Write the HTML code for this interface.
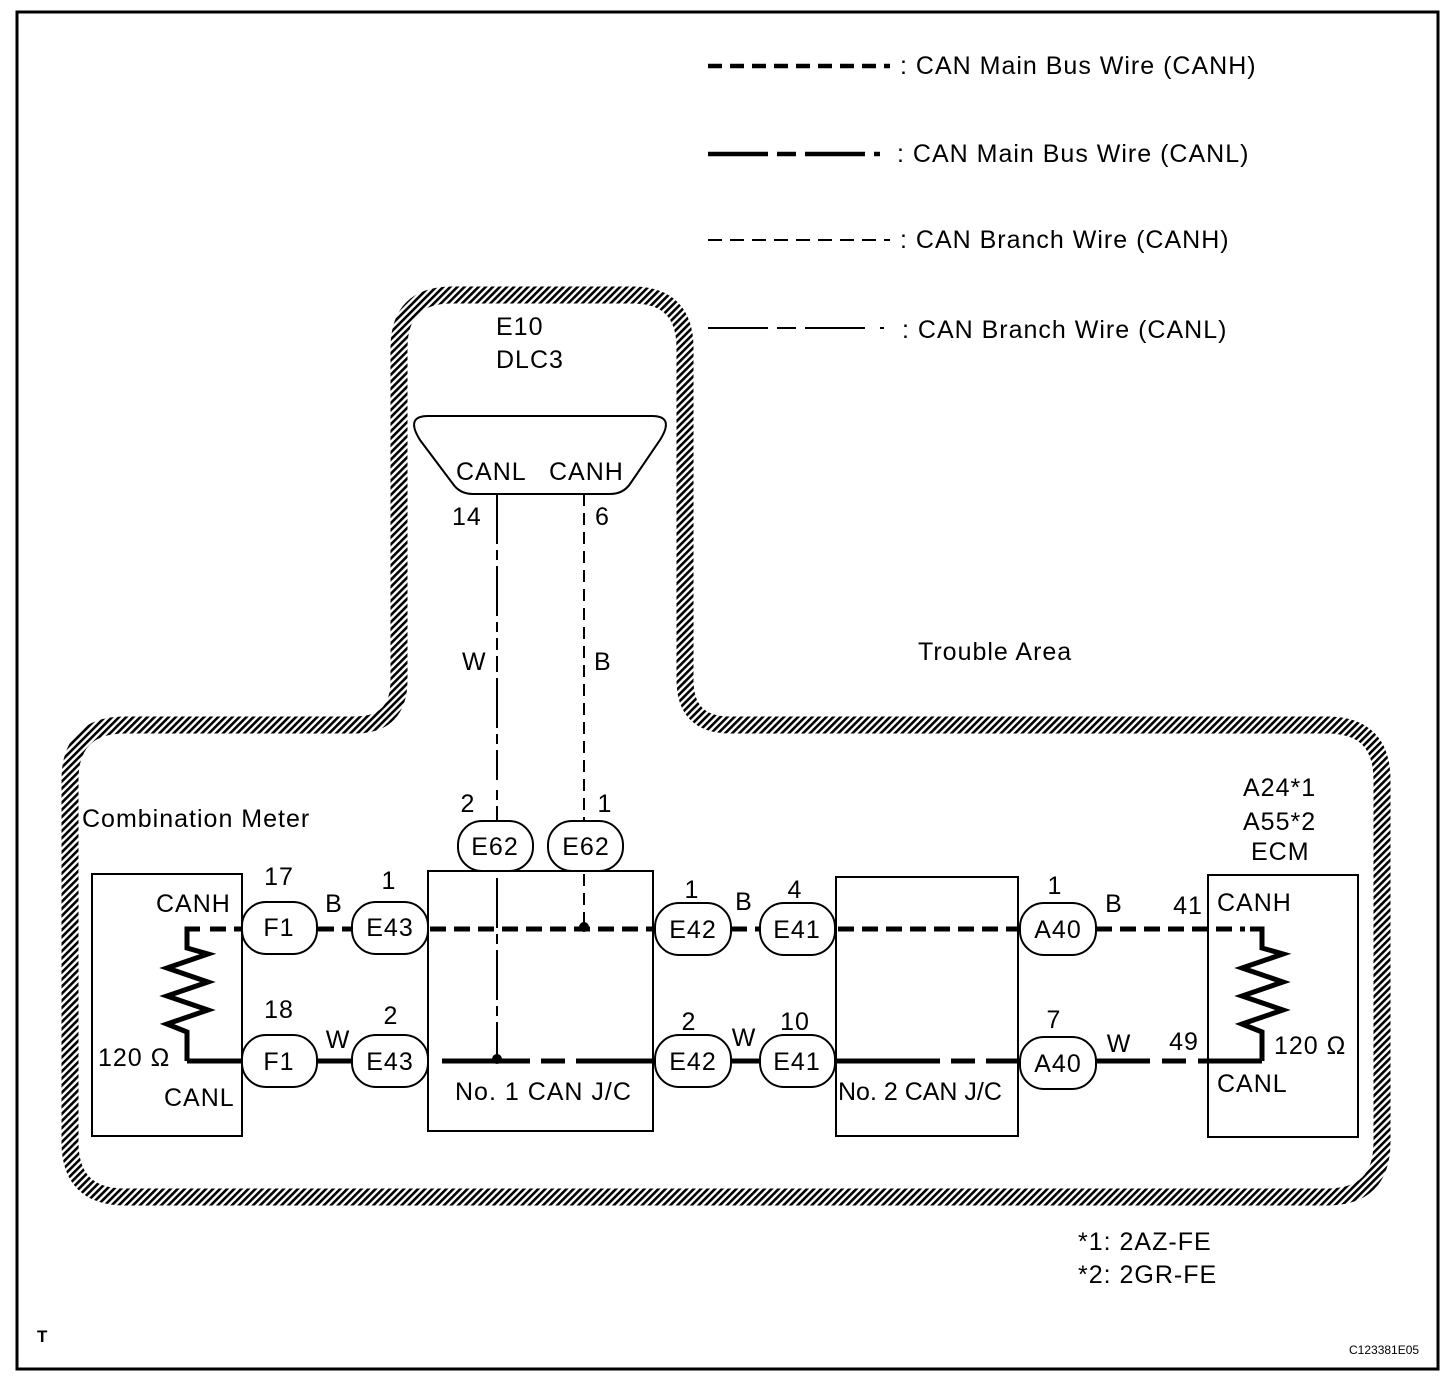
<!DOCTYPE html>
<html><head><meta charset="utf-8"><style>
html,body{margin:0;padding:0;background:#fff;}
svg{display:block;}
text{font-family:"Liberation Sans",sans-serif;font-size:25px;letter-spacing:1px;fill:#000;}
</style></head><body>
<svg width="1456" height="1384" viewBox="0 0 1456 1384" xmlns="http://www.w3.org/2000/svg">
<defs>
<pattern id="h" width="5" height="5" patternUnits="userSpaceOnUse" patternTransform="rotate(45)">
<rect x="0" y="0" width="2.6" height="5" fill="#000"/>
</pattern>
</defs>
<rect x="0" y="0" width="1456" height="1384" fill="#fff"/>
<rect x="17" y="12" width="1421" height="1357" fill="none" stroke="#000" stroke-width="3"/>

<path d="M70 780 Q70 725 125 725 L355 725 Q399 725 399 680 L399 348 Q399 295 452 295 L632 295 Q685 295 685 348 L685 680 Q685 725 730 725 L1327 725 Q1382 725 1382 780 L1382 1142 Q1382 1197 1327 1197 L125 1197 Q70 1197 70 1142 Z" fill="none" stroke="url(#h)" stroke-width="17"/>

<line x1="708" y1="66" x2="890" y2="66" stroke="#000" stroke-width="4.5" stroke-dasharray="14,8"/>
<text x="900" y="74">: CAN Main Bus Wire (CANH)</text>
<path d="M708 154 H768 M777 154 H796 M805 154 H865 M874 154 H880" stroke="#000" stroke-width="4.5" fill="none"/>
<text x="897" y="162">: CAN Main Bus Wire (CANL)</text>
<line x1="708" y1="240" x2="890" y2="240" stroke="#000" stroke-width="2" stroke-dasharray="14,8"/>
<text x="900" y="248">: CAN Branch Wire (CANH)</text>
<path d="M708 328 H768 M777 328 H796 M805 328 H865 M880 328 H884" stroke="#000" stroke-width="2" fill="none"/>
<text x="902" y="338">: CAN Branch Wire (CANL)</text>

<text x="496" y="335">E10</text>
<text x="496" y="368">DLC3</text>
<path d="M428 416 L652 416 Q675 416 660 440 L630 484 Q623 494 610 494 L473 494 Q460 494 453 484 L420 440 Q405 416 428 416 Z" fill="none" stroke="#000" stroke-width="2"/>
<text x="456" y="480">CANL</text>
<text x="549" y="480">CANH</text>
<text x="452" y="525">14</text>
<text x="595" y="525">6</text>
<text x="462" y="670">W</text>
<text x="594" y="670">B</text>
<text x="918" y="660">Trouble Area</text>

<path d="M497 494 V650 M497 656 V672 M497 678 V780 M497 790 V800 M497 806 V1059" stroke="#000" stroke-width="2" fill="none" stroke-dasharray="50,6,10,6"/>
<line x1="584" y1="494" x2="584" y2="927" stroke="#000" stroke-width="2" stroke-dasharray="12,7"/>

<text x="82" y="827">Combination Meter</text>
<text x="1243" y="796">A24*1</text>
<text x="1243" y="830">A55*2</text>
<text x="1251" y="860">ECM</text>

<rect x="92" y="874" width="150" height="262" fill="none" stroke="#000" stroke-width="2"/>
<rect x="428" y="871" width="225" height="260" fill="none" stroke="#000" stroke-width="2"/>
<rect x="836" y="877" width="182" height="259" fill="none" stroke="#000" stroke-width="2"/>
<rect x="1208" y="875" width="150" height="262" fill="none" stroke="#000" stroke-width="2"/>

<g stroke="#000" stroke-width="5" fill="none">
<path d="M187 1061 V1032 L167 1024 L208 1010 L167 996 L208 982 L167 968 L208 954 L187 948 V929 H200"/>
<path d="M1262 1061 V1032 L1242 1024 L1283 1010 L1242 996 L1283 982 L1242 968 L1283 954 L1262 948 V929 H1250"/>
</g>
<g stroke="#000" stroke-width="5" stroke-dasharray="16,8">
<line x1="210" y1="929" x2="242" y2="929"/>
<line x1="318" y1="929" x2="352" y2="929"/>
<line x1="430" y1="929" x2="655" y2="929"/>
<line x1="731" y1="929" x2="760" y2="929"/>
<line x1="838" y1="929" x2="1020" y2="929"/>
<line x1="1096" y1="929" x2="1245" y2="929"/>
</g>
<g stroke="#000" stroke-width="5" fill="none">
<path d="M187 1061 H242 M316 1061 H352 M442 1061 H530 M541 1061 H565 M576 1061 H655 M731 1061 H760 M835 1061 H940 M951 1061 H975 M986 1061 H1020 M1096 1061 H1150 M1162 1061 H1186 M1198 1061 H1262"/>
</g>
<circle cx="584" cy="927" r="5" fill="#000"/>
<circle cx="497" cy="1059" r="5" fill="#000"/>

<g fill="#fff" stroke="#000" stroke-width="2">
<rect x="458" y="821" width="75" height="50" rx="24"/>
<rect x="548" y="821" width="75" height="50" rx="24"/>
<rect x="242" y="902" width="75" height="52" rx="24"/>
<rect x="352" y="902" width="76" height="52" rx="24"/>
<rect x="242" y="1035" width="75" height="52" rx="24"/>
<rect x="352" y="1035" width="76" height="52" rx="24"/>
<rect x="655" y="903" width="76" height="52" rx="24"/>
<rect x="760" y="903" width="75" height="52" rx="24"/>
<rect x="655" y="1035" width="76" height="52" rx="24"/>
<rect x="760" y="1035" width="75" height="52" rx="24"/>
<rect x="1020" y="903" width="76" height="52" rx="24"/>
<rect x="1020" y="1037" width="76" height="52" rx="24"/>
</g>
<g text-anchor="middle">
<text x="495" y="855">E62</text><text x="586" y="855">E62</text>
<text x="279" y="936">F1</text><text x="390" y="936">E43</text>
<text x="279" y="1070">F1</text><text x="390" y="1070">E43</text>
<text x="693" y="938">E42</text><text x="797" y="938">E41</text>
<text x="693" y="1070">E42</text><text x="797" y="1070">E41</text>
<text x="1058" y="938">A40</text><text x="1058" y="1072">A40</text>
<text x="468" y="812">2</text><text x="605" y="812">1</text>
<text x="279" y="885">17</text><text x="389" y="889">1</text>
<text x="279" y="1018">18</text><text x="391" y="1024">2</text>
<text x="692" y="898">1</text><text x="795" y="898">4</text>
<text x="689" y="1030">2</text><text x="795" y="1030">10</text>
<text x="1055" y="894">1</text><text x="1054" y="1028">7</text>
<text x="334" y="912">B</text><text x="338" y="1048">W</text>
<text x="744" y="910">B</text><text x="744" y="1046">W</text>
<text x="1114" y="912">B</text><text x="1119" y="1052">W</text>
<text x="1188" y="914">41</text><text x="1184" y="1050">49</text>
</g>
<text x="156" y="912">CANH</text>
<text x="164" y="1106">CANL</text>
<text x="98" y="1066">120 Ω</text>
<text x="1217" y="911">CANH</text>
<text x="1217" y="1092">CANL</text>
<text x="1274" y="1054">120 Ω</text>
<text x="455" y="1100">No. 1 CAN J/C</text>
<text x="838" y="1100" style="letter-spacing:0">No. 2 CAN J/C</text>

<text x="1078" y="1250">*1: 2AZ-FE</text>
<text x="1078" y="1283">*2: 2GR-FE</text>
<text x="37" y="1342" style="font-size:17px;font-weight:bold">T</text>
<text x="1349" y="1354" style="font-size:12px;letter-spacing:0">C123381E05</text>
</svg>
</body></html>
